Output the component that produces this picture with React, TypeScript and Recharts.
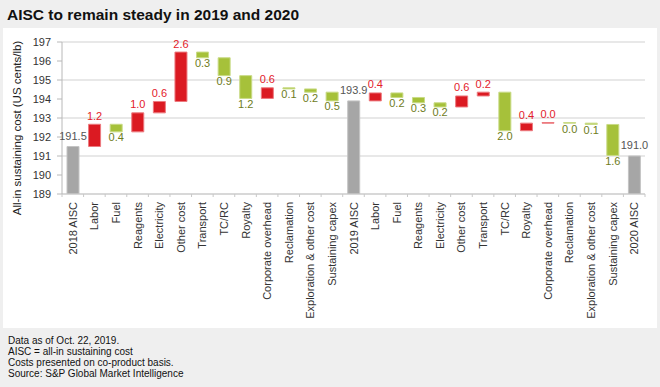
import React from 'react';
import { BarChart, Bar, XAxis, YAxis, CartesianGrid, Cell, LabelList, Label } from 'recharts';

// totals
const totalNames = ['2018 AISC', '2019 AISC', '2020 AISC'];
const totalValues = [191.5, 193.9, 191.0];

const costItems = [
  'Labor', 'Fuel', 'Reagents', 'Electricity', 'Other cost', 'Transport', 'TC/RC',
  'Royalty', 'Corporate overhead', 'Reclamation', 'Exploration & other cost', 'Sustaining capex',
];

// change in US cents/lb, + = cost up (red), - = cost down (green)
const changes2019 = [1.17, -0.4, 1.0, 0.6, 2.6, -0.3, -0.94, -1.2, 0.56, -0.06, -0.17, -0.46];
const changes2020 = [0.42, -0.24, -0.28, -0.22, 0.58, 0.2, -2.03, 0.4, 0.03, -0.03, -0.07, -1.63];

const yTicks = [189, 190, 191, 192, 193, 194, 195, 196, 197];

const notes = [
  'Data as of Oct. 22, 2019.',
  'AISC = all-in sustaining cost',
  'Costs presented on co-product basis.',
  'Source: S&P Global Market Intelligence',
];

const FONT = '"Liberation Sans", Arial, sans-serif';
const GREY = '#a6a6a6';
const RED = '#db1a22';
const GREEN = '#a6c13a';

type Row = { id: number; name: string; range: [number, number]; kind: string; label: string };

const rows: Row[] = [];
const pushTotal = (i: number) => {
  rows.push({ id: rows.length, name: totalNames[i], range: [189, totalValues[i]], kind: 'total', label: totalValues[i].toFixed(1) });
};
const pushChanges = (start: number, changes: number[]) => {
  let level = start;
  changes.forEach((c, i) => {
    const next = level + c;
    rows.push({
      id: rows.length,
      name: costItems[i],
      range: [Math.min(level, next), Math.max(level, next)],
      kind: c >= 0 ? 'up' : 'down',
      label: Math.abs(c).toFixed(1),
    });
    level = next;
  });
};
pushTotal(0);
pushChanges(totalValues[0], changes2019);
pushTotal(1);
pushChanges(totalValues[1], changes2020);
pushTotal(2);

const W = 654;
const H = 300;
const PLOT_LEFT = 59;
const PLOT_RIGHT = 12;
const BAND = (W - PLOT_LEFT - PLOT_RIGHT) / rows.length;

const fillFor = (kind: string) => (kind === 'total' ? GREY : kind === 'up' ? RED : GREEN);
const strokeFor = (kind: string) => (kind === 'total' ? '#c4c4c4' : kind === 'up' ? '#ec7a7f' : '#c9db86');

const XTick = (props: any) => {
  const { x, y, payload, index } = props;
  const name = rows[payload.value] ? rows[payload.value].name : '';
  const half = BAND / 2;
  return (
    <g>
      <line x1={x - half} x2={x - half} y1={y} y2={y + 3} stroke="#c8c8c8" />
      {index === rows.length - 1 && <line x1={x + half} x2={x + half} y1={y} y2={y + 3} stroke="#c8c8c8" />}
      <text
        transform={`translate(${x + 4},${y + 8}) rotate(-90)`}
        textAnchor="end"
        fontSize={11}
        fontFamily={FONT}
        fill="#333"
      >
        {name}
      </text>
    </g>
  );
};

const renderValue = (props: any) => {
  const { x, y, width, height, index } = props;
  const row = rows[index];
  if (!row) return null;
  const top = Math.min(y, y + height);
  const bottom = Math.max(y, y + height);
  const cx = x + width / 2;
  if (row.kind === 'down') {
    return (
      <text x={cx} y={bottom + 9.5} textAnchor="middle" fontSize={11} fontFamily={FONT} fill="#6e7c1c">
        {row.label}
      </text>
    );
  }
  return (
    <text
      x={cx}
      y={top - (row.kind === 'total' ? 7 : 4.5)}
      textAnchor="middle"
      fontSize={11}
      fontFamily={FONT}
      fill={row.kind === 'total' ? '#555' : '#e3202a'}
    >
      {row.label}
    </text>
  );
};

const App: React.FC = () => {
  return (
    <div style={{ position: 'relative', width: 660, height: 387, background: '#efefef', fontFamily: FONT, overflow: 'hidden' }}>
      <style>{'body{margin:0}'}</style>
      <div style={{ position: 'absolute', left: 7, top: 7, fontSize: 15.5, lineHeight: '16px', fontWeight: 'bold', color: '#111' }}>
        AISC to remain steady in 2019 and 2020
      </div>
      <div style={{ position: 'absolute', left: 3, top: 28, width: W, height: H, background: '#fff' }}>
        <BarChart width={W} height={H} data={rows} margin={{ top: 14, right: PLOT_RIGHT, left: 0, bottom: 0 }} barSize={12}>
          <CartesianGrid vertical={false} stroke="#e8e8e8" strokeWidth={2} />
          <XAxis
            dataKey="id"
            type="category"
            interval={0}
            height={134}
            tickLine={false}
            tickSize={0}
            tickMargin={0}
            axisLine={{ stroke: '#c8c8c8' }}
            tick={<XTick />}
          />
          <YAxis
            width={PLOT_LEFT}
            domain={[189, 197]}
            ticks={yTicks}
            allowDataOverflow
            tickSize={5}
            tickMargin={6}
            axisLine={{ stroke: '#b8b8b8' }}
            tickLine={{ stroke: '#b8b8b8' }}
            tick={{ fontSize: 11, fill: '#333', fontFamily: FONT }}
          >
            <Label
              content={() => (
                <text
                  transform="translate(18,100) rotate(-90)"
                  textAnchor="middle"
                  fontSize={11.5}
                  fontFamily={FONT}
                  fill="#222"
                >
                  All-in sustaining cost (US cents/lb)
                </text>
              )}
            />
          </YAxis>
          <Bar dataKey="range" isAnimationActive={false}>
            {rows.map((r) => (
              <Cell key={`cell-${r.id}`} fill={fillFor(r.kind)} stroke={strokeFor(r.kind)} strokeWidth={1} />
            ))}
            <LabelList dataKey="label" content={renderValue} />
          </Bar>
        </BarChart>
      </div>
      <div style={{ position: 'absolute', left: 8, top: 335, fontSize: 10, lineHeight: '11.1px', color: '#111' }}>
        {notes.map((n) => (
          <div key={n}>{n}</div>
        ))}
      </div>
    </div>
  );
};

export default App;
